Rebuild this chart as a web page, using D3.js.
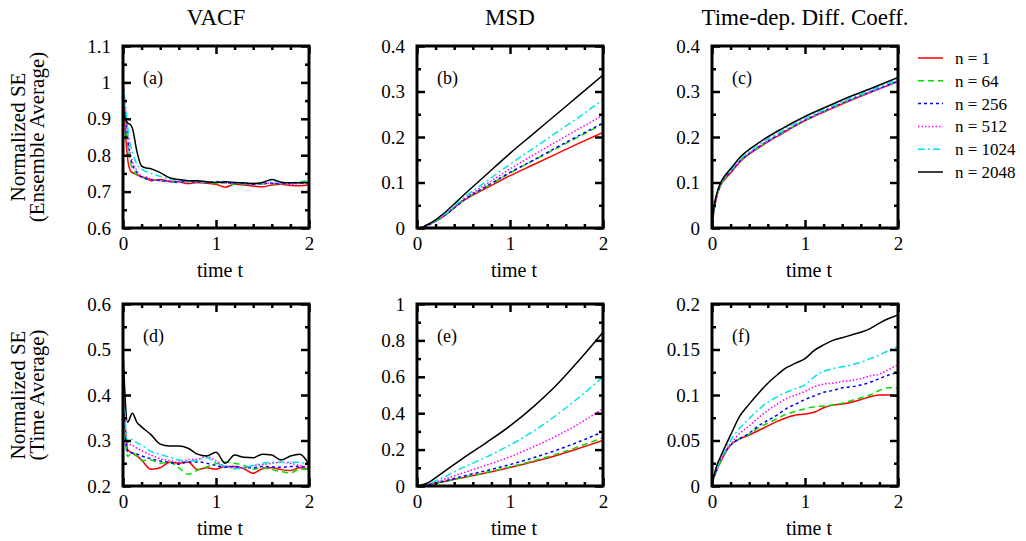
<!DOCTYPE html>
<html>
<head>
<meta charset="utf-8">
<title>Normalized SE panels</title>
<script src="https://d3js.org/d3.v7.min.js"></script>
<style>
  body {margin: 0; background: #fff;}
  .axis path {display: none;}
  .axis line {stroke: #000; stroke-width: 2.5;}
</style>
</head>
<body>
<script>
// ---- data ----
const seriesNames = ["n = 1", "n = 64", "n = 256", "n = 512", "n = 1024", "n = 2048"];
const seriesColors = ["#ff0000", "#00e000", "#0000ff", "#ff00ff", "#00e5e5", "#000000"];
const seriesDash = [null, "6,4", "3,3", "1.5,2", "7,3,2,3", null];

const colTitles = ["VACF", "MSD", "Time-dep. Diff. Coeff."];
const rowLabels = [["Normalized SE", "(Ensemble Average)"], ["Normalized SE", "(Time Average)"]];
const panelTags = ["(a)", "(b)", "(c)", "(d)", "(e)", "(f)"];

// (a) VACF, ensemble average
const tA = [0, .025, .05, .075, .1, .15, .2, .25, .3, .4, .5, .6, .7, .8, .9, 1.0, 1.1, 1.2, 1.3, 1.4, 1.5, 1.6, 1.7, 1.8, 1.9, 2.0];
const vacfEns = [
  [1.0, .87, .79, .76, .752, .747, .74, .738, .73, .733, .728, .727, .722, .725, .723, .72, .712, .72, .718, .715, .713, .718, .72, .717, .716, .718],
  [1.0, .9, .83, .785, .765, .745, .74, .735, .733, .73, .727, .725, .73, .728, .724, .722, .724, .72, .72, .72, .721, .722, .72, .724, .727, .73],
  [1.0, .92, .85, .8, .775, .752, .74, .735, .733, .73, .728, .726, .728, .726, .725, .728, .725, .722, .722, .72, .722, .723, .722, .722, .724, .722],
  [1.0, .93, .86, .81, .785, .757, .742, .74, .735, .73, .728, .727, .727, .728, .726, .726, .724, .723, .722, .722, .722, .724, .722, .72, .722, .722],
  [1.0, .94, .88, .835, .81, .775, .762, .755, .75, .742, .735, .73, .728, .727, .727, .725, .727, .725, .723, .722, .724, .73, .726, .724, .724, .728],
  [.925, .9, .888, .885, .875, .81, .77, .765, .763, .752, .738, .733, .73, .73, .727, .725, .727, .725, .724, .722, .725, .733, .726, .724, .724, .725]
];

// (b) MSD, ensemble average
const tB = [0, .05, .1, .2, .3, .5, .75, 1.0, 1.25, 1.5, 1.75, 2.0];
const msdEns = [
  [0, .001, .005, .015, .028, .06, .088, .115, .139, .163, .187, .21],
  [0, .001, .005, .015, .028, .061, .091, .121, .148, .175, .202, .229],
  [0, .001, .005, .015, .028, .061, .092, .122, .149, .177, .204, .231],
  [0, .001, .005, .015, .029, .063, .097, .13, .16, .19, .219, .248],
  [0, .001, .005, .016, .03, .066, .103, .14, .175, .21, .245, .282],
  [0, .001, .006, .018, .034, .072, .118, .164, .207, .25, .293, .336]
];

// (c) diffusion coefficient, ensemble average
const tC = [0, .02, .05, .1, .15, .2, .3, .5, .75, 1.0, 1.25, 1.5, 1.75, 2.0];
const diffEns = [
  [0, .035, .068, .097, .11, .121, .145, .176, .207, .236, .259, .281, .302, .322],
  [.005, .038, .07, .098, .112, .123, .146, .177, .208, .236, .26, .282, .302, .322],
  [.03, .045, .07, .099, .113, .124, .147, .178, .209, .237, .261, .283, .303, .323],
  [.005, .038, .07, .099, .113, .124, .147, .178, .209, .237, .26, .282, .302, .322],
  [.005, .04, .072, .1, .115, .127, .15, .182, .213, .241, .264, .286, .306, .327],
  [.01, .045, .075, .103, .118, .13, .155, .187, .218, .245, .268, .29, .31, .331]
];

// (d) VACF, time average
const tD = [0, .05, .1, .15, .2, .3, .4, .5, .6, .7, .8, .9, 1.0, 1.1, 1.2, 1.3, 1.4, 1.5, 1.6, 1.7, 1.8, 1.9, 2.0];
const vacfTime = [
  [.42, .28, .272, .266, .257, .237, .24, .252, .25, .253, .236, .24, .237, .243, .243, .238, .228, .238, .24, .236, .234, .24, .237],
  [.38, .265, .274, .265, .256, .257, .25, .252, .24, .226, .235, .242, .249, .252, .25, .245, .237, .24, .236, .232, .229, .237, .237],
  [.4, .275, .273, .27, .266, .26, .255, .252, .248, .253, .253, .25, .245, .241, .243, .24, .24, .243, .242, .241, .243, .243, .24],
  [.41, .292, .29, .283, .278, .268, .26, .256, .252, .258, .259, .265, .255, .243, .24, .24, .245, .247, .25, .252, .25, .245, .242],
  [.44, .296, .303, .295, .29, .276, .27, .263, .257, .255, .256, .262, .25, .243, .238, .24, .245, .25, .252, .252, .252, .252, .245],
  [.495, .34, .36, .34, .33, .313, .292, .288, .288, .283, .27, .266, .274, .25, .268, .263, .262, .27, .268, .257, .266, .27, .248]
];

// (e) MSD, time average
const tE = [0, .1, .25, .5, .75, 1.0, 1.25, 1.5, 1.75, 2.0];
const msdTime = [
  [0, .005, .02, .047, .073, .102, .133, .168, .208, .25],
  [0, .005, .02, .048, .075, .105, .138, .175, .218, .265],
  [0, .005, .022, .055, .085, .118, .155, .197, .245, .298],
  [0, .006, .03, .073, .115, .16, .215, .275, .345, .425],
  [0, .008, .04, .102, .16, .225, .3, .39, .49, .6],
  [0, .014, .064, .155, .24, .33, .435, .555, .695, .845]
];

// (f) diffusion coefficient, time average
const tF = [0, .05, .1, .2, .3, .4, .5, .6, .7, .8, .9, 1.0, 1.1, 1.2, 1.3, 1.4, 1.5, 1.6, 1.7, 1.8, 1.9, 2.0];
const diffTime = [
  [.003, .017, .028, .045, .052, .056, .061, .066, .071, .075, .078, .079, .081, .086, .089, .09, .092, .095, .098, .1, .1, .098],
  [.003, .017, .028, .045, .052, .057, .064, .069, .074, .079, .082, .085, .087, .088, .089, .091, .094, .097, .1, .105, .108, .108],
  [.003, .018, .03, .045, .052, .058, .066, .072, .078, .085, .09, .095, .099, .103, .105, .108, .109, .111, .114, .118, .122, .125],
  [.003, .018, .03, .046, .058, .066, .075, .083, .09, .096, .1, .104, .109, .112, .113, .115, .116, .118, .121, .123, .128, .133],
  [.003, .018, .03, .05, .064, .074, .084, .092, .098, .103, .107, .111, .12, .126, .129, .131, .133, .136, .14, .144, .149, .153],
  [.003, .022, .034, .056, .077, .09, .102, .113, .122, .13, .135, .14, .149, .155, .16, .163, .166, .169, .173, .179, .184, .188]
];

// y ranges and tick steps per panel
const yDomains = [[0.6, 1.1], [0, 0.4], [0, 0.4], [0.2, 0.6], [0, 1], [0, 0.2]];
const yMajor = [0.1, 0.1, 0.1, 0.1, 0.2, 0.05];
const xTicks = [0, 1, 2];

// ---- layout ----
const W = 1026, H = 541;
const colX = [123, 417, 712];
const rowY = [46, 304];
const pw = 186, ph = 182;
const FONT = "Liberation Serif";

const svg = d3.select("body").append("svg")
  .attr("width", W).attr("height", H)
  .attr("font-family", FONT);

const panels = [
  {t: tA, ys: vacfEns}, {t: tB, ys: msdEns}, {t: tC, ys: diffEns},
  {t: tD, ys: vacfTime}, {t: tE, ys: msdTime}, {t: tF, ys: diffTime}
];

const fmt = d3.format(".3~f");

function range(a, b, step) {
  const out = [];
  const n = Math.round((b - a) / step);
  for (let i = 0; i <= n; i++) out.push(+(a + i * step).toFixed(4));
  return out;
}

panels.forEach((p, k) => {
  const col = k % 3, row = Math.floor(k / 3);
  const g = svg.append("g").attr("transform", `translate(${colX[col]},${rowY[row]})`);

  const x = d3.scaleLinear().domain([0, 2]).range([0, pw]);
  const y = d3.scaleLinear().domain(yDomains[k]).range([ph, 0]);

  const majY = range(yDomains[k][0], yDomains[k][1], yMajor[k]);
  const minY = range(yDomains[k][0], yDomains[k][1], yMajor[k] / 2).filter(v => !majY.some(m => Math.abs(m - v) < 1e-6));
  const minX = range(0, 2, 0.2).filter(v => !xTicks.includes(v));

  g.append("clipPath").attr("id", "clip" + k)
    .append("rect").attr("width", pw).attr("height", ph);

  const line = d3.line()
    .x((d, i) => x(p.t[i]))
    .y(d => y(d))
    .curve(d3.curveMonotoneX);

  const lines = g.append("g").attr("clip-path", `url(#clip${k})`);
  p.ys.forEach((vals, s) => {
    lines.append("path")
      .attr("d", line(vals))
      .attr("fill", "none")
      .attr("stroke", seriesColors[s])
      .attr("stroke-width", 1.5)
      .attr("stroke-dasharray", seriesDash[s]);
  });

  // major ticks (inward) with labels
  const axes = [];
  axes.push(g.append("g").attr("transform", `translate(0,${ph})`)
    .call(d3.axisBottom(x).tickValues(xTicks).tickSizeInner(-8).tickSizeOuter(0).tickPadding(9).tickFormat(d3.format("d"))));
  axes.push(g.append("g")
    .call(d3.axisTop(x).tickValues(xTicks).tickSize(-8).tickFormat("")));
  axes.push(g.append("g")
    .call(d3.axisLeft(y).tickValues(majY).tickSizeInner(-8).tickSizeOuter(0).tickPadding(12).tickFormat(fmt)));
  axes.push(g.append("g").attr("transform", `translate(${pw},0)`)
    .call(d3.axisRight(y).tickValues(majY).tickSize(-8).tickFormat("")));

  // minor ticks
  axes.push(g.append("g").attr("transform", `translate(0,${ph})`)
    .call(d3.axisBottom(x).tickValues(minX).tickSize(-4).tickFormat("")));
  axes.push(g.append("g")
    .call(d3.axisTop(x).tickValues(minX).tickSize(-4).tickFormat("")));
  axes.push(g.append("g")
    .call(d3.axisLeft(y).tickValues(minY).tickSize(-4).tickFormat("")));
  axes.push(g.append("g").attr("transform", `translate(${pw},0)`)
    .call(d3.axisRight(y).tickValues(minY).tickSize(-4).tickFormat("")));

  axes.forEach(a => {
    a.attr("class", "axis").attr("font-family", FONT).attr("font-size", 19);
    a.selectAll("text").attr("fill", "#000");
  });

  // frame
  g.append("rect")
    .attr("width", pw).attr("height", ph)
    .attr("fill", "none").attr("stroke", "#000").attr("stroke-width", 3);

  g.append("text").attr("x", 20).attr("y", 38)
    .attr("font-size", 18).text(panelTags[k]);

  g.append("text").attr("x", pw / 2 + 4).attr("y", ph + 49)
    .attr("text-anchor", "middle").attr("font-size", 20).text("time t");

  if (row === 0) {
    g.append("text").attr("x", pw / 2).attr("y", -21)
      .attr("text-anchor", "middle").attr("font-size", 23).text(colTitles[col]);
  }
});

// row labels
rowLabels.forEach((lbl, r) => {
  const cy = rowY[r] + ph / 2;
  lbl.forEach((txt, i) => {
    svg.append("text")
      .attr("transform", `translate(${25 + i * 19},${cy}) rotate(-90)`)
      .attr("text-anchor", "middle")
      .attr("font-size", 21)
      .text(txt);
  });
});

// legend
const legend = svg.append("g").attr("transform", "translate(918,58)");
seriesNames.forEach((name, i) => {
  const row = legend.append("g").attr("transform", `translate(0,${i * 22.8})`);
  row.append("line")
    .attr("x1", 0).attr("x2", 25).attr("y1", 0).attr("y2", 0)
    .attr("stroke", seriesColors[i]).attr("stroke-width", 1.5)
    .attr("stroke-dasharray", seriesDash[i]);
  row.append("text").attr("x", 37).attr("y", 6)
    .attr("font-size", 17).text(name);
});
</script>
</body>
</html>
